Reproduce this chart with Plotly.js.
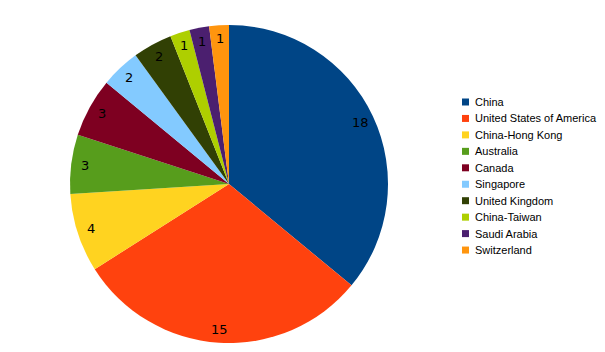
<!DOCTYPE html>
<html><head><meta charset="utf-8">
<script src="https://cdn.plot.ly/plotly-3.0.1.min.js"></script>
<style>html,body{margin:0;padding:0;background:#fff}#chart{width:605px;height:352px}</style>
</head><body><div id="chart"></div>
<script>
const countries = ["China","United States of America","China-Hong Kong","Australia","Canada","Singapore","United Kingdom","China-Taiwan","Saudi Arabia","Switzerland"];
const counts = [18,15,4,3,3,2,2,1,1,1];
const colors = ["#004586","#ff420e","#ffd320","#579d1c","#7e0021","#83caff","#314004","#aecf00","#4b1f6f","#ff950e"];

const W = 605, H = 352;
const cx = 229, cy = 184, R = 159;   // pie centre and radius (px)
const dom = {x: [(cx - R) / W, (cx + R) / W], y: [(H - cy - R) / H, (H - cy + R) / H]};

const trace = {
  type: "pie",
  labels: countries,
  values: counts,
  sort: false,
  direction: "clockwise",
  rotation: 0,
  marker: {colors: colors, line: {width: 0}},
  textinfo: "none",
  hoverinfo: "label+value",
  showlegend: false,
  domain: dom
};

// value labels near the outer edge of each slice, placed from the data
const total = counts.reduce((a, b) => a + b, 0);
const annotations = [];
const shapes = [];
let cum = 0;
counts.forEach((v, i) => {
  const mid = (cum + v / 2) / total * 2 * Math.PI;
  cum += v;
  const d = R * 0.915;
  annotations.push({
    xref: "paper", yref: "paper",
    x: (cx + d * Math.sin(mid)) / W,
    y: (H - cy + d * Math.cos(mid)) / H,
    text: String(v), showarrow: false,
    xanchor: "center", yanchor: "middle",
    font: {family: "DejaVu Sans", size: 13, color: "#000"}
  });
});
// legend
const legX = 462, legY0 = 102, legStep = 16.45, sq = 7;
countries.forEach((c, i) => {
  const yc = legY0 + i * legStep;
  shapes.push({type: "rect", xref: "paper", yref: "paper",
    x0: legX / W, x1: (legX + sq) / W,
    y0: (H - yc - sq / 2) / H, y1: (H - yc + sq / 2) / H,
    fillcolor: colors[i], line: {width: 0}});
  annotations.push({xref: "paper", yref: "paper",
    x: (legX + sq + 4) / W, y: (H - yc) / H,
    text: c, showarrow: false, xanchor: "left", yanchor: "middle",
    font: {family: "Liberation Sans", size: 11, color: "#000"}});
});

const layout = {
  width: W, height: H,
  margin: {l: 0, r: 0, t: 0, b: 0},
  paper_bgcolor: "#fff",
  showlegend: false,
  annotations: annotations,
  shapes: shapes,
  font: {family: "Liberation Sans"}
};
Plotly.newPlot("chart", [trace], layout, {displayModeBar: false, staticPlot: true});
</script></body></html>
